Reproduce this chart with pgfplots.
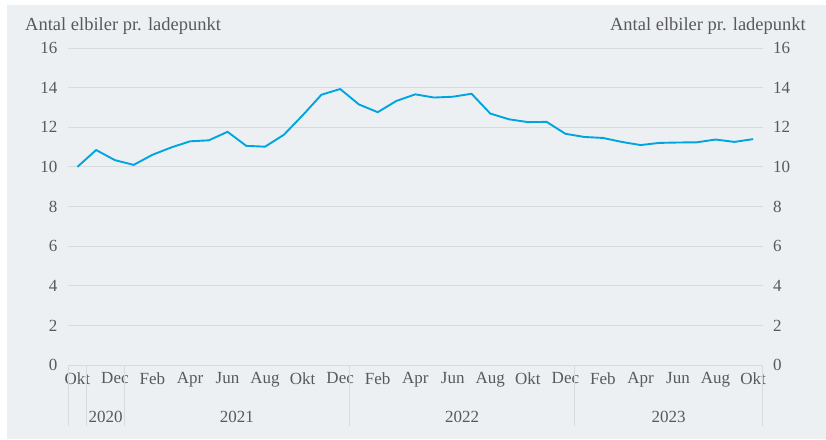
\documentclass[border=0pt]{standalone}
\usepackage{pgfplots}
\pgfplotsset{compat=1.18}
\usepackage{pgfplotstable}
\usepackage{fontspec}
\setmainfont{Liberation Serif}
\definecolor{bg}{HTML}{EDF0F3}
\definecolor{gridc}{HTML}{D7DBDF}
\definecolor{txt}{HTML}{595959}
\definecolor{linec}{HTML}{00A5E0}

\pgfplotstableread{
x y
0 10.00
1 10.85
2 10.34
3 10.10
4 10.61
5 10.98
6 11.29
7 11.34
8 11.77
9 11.06
10 11.02
11 11.62
12 12.60
13 13.64
14 13.93
15 13.15
16 12.76
17 13.33
18 13.66
19 13.50
20 13.54
21 13.69
22 12.69
23 12.40
24 12.26
25 12.27
26 11.67
27 11.51
28 11.46
29 11.26
30 11.10
31 11.21
32 11.23
33 11.24
34 11.38
35 11.26
36 11.40
}\data

\begin{document}
\begin{tikzpicture}
\fill[white] (0pt,0pt) rectangle (826pt,439pt);
\fill[bg] (7pt,0pt) rectangle (826pt,434pt);
\node[anchor=base west, text=txt, font=\fontsize{18.5}{18.5}\selectfont, inner sep=0pt] at (25pt,408pt) {Antal elbiler pr. ladepunkt};
\node[anchor=base east, text=txt, font=\fontsize{18.5}{18.5}\selectfont, inner sep=0pt] at (806pt,408pt) {Antal elbiler pr. ladepunkt};
\begin{axis}[
  at={(68pt,74pt)}, anchor=south west,
  scale only axis, width=694.5pt, height=317pt,
  xmin=-0.5, xmax=36.5, ymin=0, ymax=16,
  ytick={0,2,...,16},
  ymajorgrids, grid style={gridc, line width=0.8pt},
  axis line style={draw=none},
  major tick length=0pt,
  xtick={0,2,...,36},
  xticklabels={Okt,Dec,Feb,Apr,Jun,Aug,Okt,Dec,Feb,Apr,Jun,Aug,Okt,Dec,Feb,Apr,Jun,Aug,Okt},
  tick label style={font=\fontsize{17}{17}\selectfont, text=txt},
  /pgf/number format/assume math mode=true,
  yticklabel shift=7pt,
  xticklabel shift=4pt,
  clip=false,
]
\addplot[linec, line width=1.9pt, no marks] table[x=x,y=y] {\data};
\foreach \s in {-0.5,0.5,2.5,14.5,26.5,36.5} {
  \edef\tmp{\noexpand\draw[gridc, line width=0.8pt] (axis cs:\s,0) -- ([yshift=-61pt]axis cs:\s,0);}
  \tmp
}
\node[text=txt, font=\fontsize{17}{17}\selectfont] at ([yshift=-52pt]axis cs:1.5,0) {2020};
\node[text=txt, font=\fontsize{17}{17}\selectfont] at ([yshift=-52pt]axis cs:8.5,0) {2021};
\node[text=txt, font=\fontsize{17}{17}\selectfont] at ([yshift=-52pt]axis cs:20.5,0) {2022};
\node[text=txt, font=\fontsize{17}{17}\selectfont] at ([yshift=-52pt]axis cs:31.5,0) {2023};
\end{axis}
\begin{axis}[
  at={(68pt,74pt)}, anchor=south west,
  scale only axis, width=694.5pt, height=317pt,
  xmin=-0.5, xmax=36.5, ymin=0, ymax=16,
  ytick={0,2,...,16},
  yticklabel pos=right,
  xtick=\empty,
  axis line style={draw=none},
  major tick length=0pt,
  tick label style={font=\fontsize{17}{17}\selectfont, text=txt},
  /pgf/number format/assume math mode=true,
  yticklabel shift=7pt,
]
\end{axis}
\end{tikzpicture}
\end{document}
